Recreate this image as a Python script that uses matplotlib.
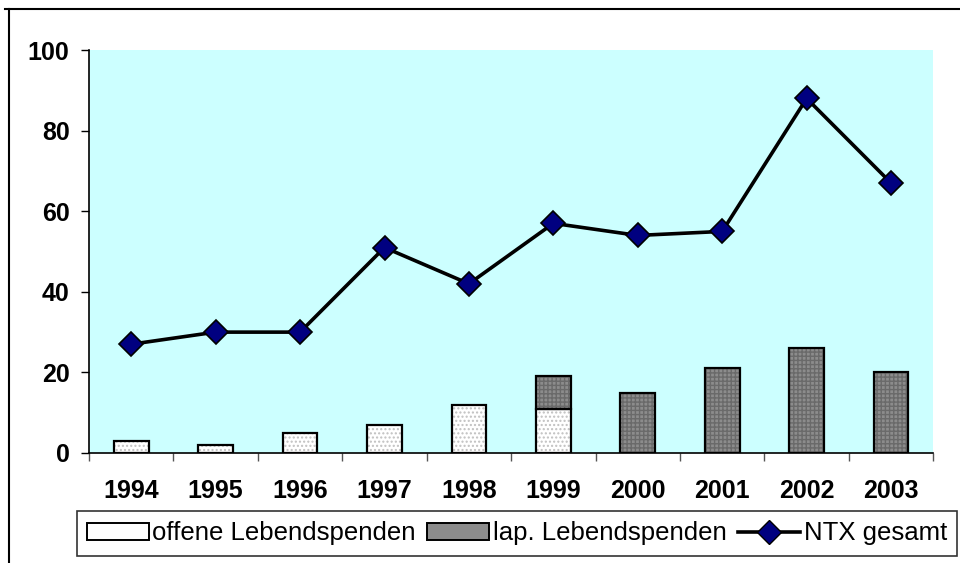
import numpy as np
import matplotlib.pyplot as plt
from matplotlib.lines import Line2D

plt.rcParams['font.family'] = ['Liberation Sans', 'DejaVu Sans']

years = ['1994', '1995', '1996', '1997', '1998', '1999', '2000', '2001', '2002', '2003']
offene = [3, 2, 5, 7, 12, 11, 0, 0, 0, 0]
lap = [0, 0, 0, 0, 0, 8, 15, 21, 26, 20]
ntx = [27, 30, 30, 51, 42, 57, 54, 55, 88, 67]

x = np.arange(len(years))
w = 0.41

fig = plt.figure(figsize=(9.6, 5.63), dpi=100)
ax = fig.add_axes([0.0927, 0.1954, 0.8795, 0.7156])
ax.set_facecolor('#ccffff')

off = np.array(offene)
lp = np.array(lap)
# fill with pattern, then outline on top
ax.bar(x, off, w, color='white', edgecolor='#c0c0c0', hatch='....', linewidth=0, zorder=2)
ax.bar(x, lp, w, bottom=off, color='#8c8c8c', edgecolor='#6a6a6a', hatch='++++', linewidth=0, zorder=2)
m = off > 0
ax.bar(x[m], off[m], w, fill=False, edgecolor='black', linewidth=1.6, zorder=3)
m = lp > 0
ax.bar(x[m], lp[m], w, bottom=off[m], fill=False, edgecolor='black', linewidth=1.6, zorder=3)

ax.plot(x, ntx, color='black', linewidth=2.6, marker='D', markersize=12,
        markerfacecolor='#000080', markeredgecolor='black', markeredgewidth=1.2, zorder=4,
        clip_on=False)

ax.set_xlim(-0.5, len(years) - 0.5)
ax.set_ylim(0, 100)
ax.set_yticks([0, 20, 40, 60, 80, 100])
ax.set_xticks(x)
ax.set_xticklabels(years)
ax.set_xticks(np.arange(len(years) + 1) - 0.5, minor=True)
for s in ['top', 'right']:
    ax.spines[s].set_visible(False)
ax.spines['left'].set_linewidth(1.2)
ax.spines['bottom'].set_linewidth(1.2)
ax.tick_params(axis='y', direction='out', length=6, width=1, pad=8, labelsize=18)
ax.tick_params(axis='x', which='major', length=0, pad=19, labelsize=18)
ax.tick_params(axis='x', which='minor', direction='out', length=6, width=1, color='#555555')
for lbl in ax.get_xticklabels() + ax.get_yticklabels():
    lbl.set_fontweight('bold')

h1 = plt.Rectangle((0, 0), 1, 1, facecolor='white', edgecolor='black', linewidth=1.4)
h2 = plt.Rectangle((0, 0), 1, 1, facecolor='#8c8c8c', edgecolor='black', linewidth=1.4)
h3 = Line2D([], [], color='black', linewidth=2.6, marker='D', markersize=12,
            markerfacecolor='#000080', markeredgecolor='black')
leg = fig.legend([h1, h2, h3], ['offene Lebendspenden', 'lap. Lebendspenden', 'NTX gesamt'],
                 loc='center', bbox_to_anchor=(0.5385, 0.0524),
                 ncol=3, fontsize=18.5, frameon=True, fancybox=False,
                 edgecolor='black', handlelength=2.4, handleheight=0.7, handletextpad=0.15,
                 columnspacing=0.45, borderaxespad=0, borderpad=0.4)
leg.get_frame().set_linewidth(1.2)

fig.add_artist(Line2D([0.005, 1.0], [0.984, 0.984], color='black', linewidth=1.5,
                      transform=fig.transFigure))
fig.add_artist(Line2D([0.0094, 0.0094], [0.0, 0.984], color='black', linewidth=1.5,
                      transform=fig.transFigure))

fig.savefig('out.png', dpi=100)
